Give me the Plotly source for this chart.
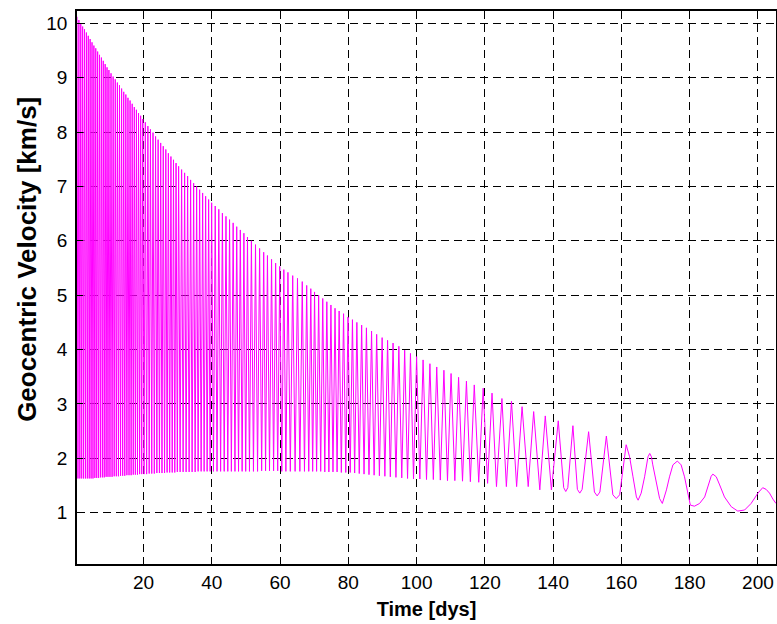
import plotly.graph_objects as go

# Peak (perigee) samples: time [days], velocity [km/s]
peak_t = [
    0.5, 1.05, 1.6, 2.15, 2.7, 3.25, 3.8, 4.35, 4.9, 5.45, 6.0, 6.55, 7.1, 7.65, 8.2, 8.75, 9.3, 9.85,
    10.47, 11.09, 11.71, 12.33, 12.95, 13.57, 14.19, 14.81, 15.43, 16.05, 16.67, 17.29, 17.91, 18.53, 19.15, 19.77,
    20.52, 21.27, 22.02, 22.77, 23.52, 24.27, 25.02, 25.77, 26.52, 27.27, 28.02, 28.77, 29.52, 30.27,
    31.15, 32.03, 32.91, 33.79, 34.67, 35.55, 36.43, 37.31, 38.19, 39.07, 39.95,
    41.0, 42.05, 43.1, 44.15, 45.2, 46.25, 47.3, 48.35, 49.4, 50.45,
    51.6, 52.8, 54.0, 55.2, 56.3, 57.5, 58.7, 59.9, 61.1, 62.3, 63.7,
    65.1, 66.5, 67.8, 69.0, 70.1, 71.3, 72.5, 73.7, 74.9, 76.1, 77.3, 78.6, 79.9, 81.2, 82.5, 83.9, 85.3, 86.8,
    88.3, 89.9, 91.5, 93.1, 94.8, 96.5, 98.2, 100.0, 101.9, 103.9, 105.9, 108.0, 110.1, 112.3, 114.6, 116.9, 119.5,
    122.1, 125.0, 127.8, 130.9, 134.3, 137.7, 141.5, 145.8, 150.4, 155.6, 161.4, 168.3, 176.4, 186.8, 201.4,
]
peak_v = [
    10.12, 10.06, 10.00, 9.94, 9.89, 9.83, 9.77, 9.71, 9.65, 9.59, 9.54, 9.48, 9.42, 9.37, 9.31, 9.25, 9.19, 9.14,
    9.08, 9.02, 8.97, 8.91, 8.86, 8.80, 8.74, 8.69, 8.63, 8.58, 8.52, 8.46, 8.41, 8.35, 8.30, 8.24,
    8.18, 8.11, 8.05, 7.99, 7.92, 7.86, 7.80, 7.74, 7.68, 7.61, 7.55, 7.49, 7.43, 7.37,
    7.31, 7.25, 7.19, 7.12, 7.06, 7.00, 6.94, 6.88, 6.82, 6.76, 6.70,
    6.64, 6.58, 6.51, 6.45, 6.39, 6.33, 6.26, 6.20, 6.14, 6.07,
    6.00, 5.93, 5.86, 5.79, 5.73, 5.66, 5.59, 5.53, 5.47, 5.42, 5.36,
    5.31, 5.25, 5.18, 5.12, 5.06, 5.00, 4.94, 4.88, 4.82, 4.76, 4.71, 4.66, 4.60, 4.55, 4.50, 4.45, 4.40, 4.34,
    4.28, 4.22, 4.17, 4.12, 4.06, 3.99, 3.93, 3.87, 3.81, 3.74, 3.68, 3.62, 3.56, 3.49, 3.42, 3.35, 3.29,
    3.20, 3.10, 3.05, 2.95, 2.86, 2.78, 2.69, 2.60, 2.49, 2.41, 2.25, 2.09, 1.95, 1.71, 1.46,
]

# Trough (apogee) samples
trough_t = [
    0.78, 1.33, 1.88, 2.43, 2.98, 3.53, 4.08, 4.63, 5.18, 5.73, 6.28, 6.83, 7.38, 7.93, 8.48, 9.03, 9.58, 10.16,
    10.78, 11.40, 12.02, 12.64, 13.26, 13.88, 14.50, 15.12, 15.74, 16.36, 16.98, 17.60, 18.22, 18.84, 19.46, 20.15,
    20.90, 21.65, 22.40, 23.15, 23.90, 24.65, 25.40, 26.15, 26.90, 27.65, 28.40, 29.15, 29.90, 30.71,
    31.59, 32.47, 33.35, 34.23, 35.11, 35.99, 36.87, 37.75, 38.63, 39.51, 40.48,
    41.53, 42.58, 43.63, 44.68, 45.73, 46.78, 47.83, 48.88, 49.93, 51.03,
    52.2, 53.4, 54.6, 55.75, 56.9, 58.1, 59.3, 60.5, 61.7, 63.0, 64.4,
    65.8, 67.15, 68.4, 69.55, 70.7, 71.9, 73.1, 74.3, 75.5, 76.7, 77.95, 79.25, 80.55, 81.85, 83.2, 84.6, 86.05, 87.55,
    89.1, 90.7, 92.3, 93.95, 95.65, 97.35, 99.1, 100.95, 102.9, 104.9, 106.95, 109.05, 111.2, 113.45, 115.75, 118.2, 120.8,
    123.4, 126.3, 129.3, 132.7, 136.1, 139.5, 143.7, 147.8, 152.9, 158.5, 164.9, 172.0, 181.4, 194.1,
]
trough_v = [
    1.63, 1.63, 1.63, 1.63, 1.63, 1.63, 1.63, 1.63, 1.63, 1.64, 1.64, 1.64, 1.65, 1.65, 1.65, 1.66, 1.66, 1.66,
    1.66, 1.67, 1.67, 1.67, 1.68, 1.68, 1.68, 1.69, 1.69, 1.69, 1.70, 1.70, 1.70, 1.71, 1.71, 1.71,
    1.71, 1.72, 1.72, 1.72, 1.73, 1.73, 1.73, 1.73, 1.74, 1.74, 1.74, 1.74, 1.75, 1.75,
    1.75, 1.75, 1.75, 1.75, 1.75, 1.76, 1.76, 1.76, 1.76, 1.76, 1.76,
    1.76, 1.76, 1.76, 1.76, 1.76, 1.76, 1.76, 1.76, 1.76, 1.76,
    1.76, 1.76, 1.77, 1.77, 1.77, 1.77, 1.77, 1.76, 1.76, 1.76, 1.76,
    1.76, 1.76, 1.76, 1.76, 1.76, 1.76, 1.75, 1.75, 1.75, 1.75, 1.74, 1.74, 1.74, 1.73, 1.72, 1.71, 1.70, 1.69,
    1.68, 1.67, 1.66, 1.65, 1.64, 1.63, 1.62, 1.62, 1.61, 1.61, 1.60, 1.59, 1.59, 1.58, 1.57, 1.56, 1.54,
    1.48, 1.48, 1.48, 1.48, 1.42, 1.42, 1.39, 1.36, 1.31, 1.26, 1.23, 1.17, 1.12, 1.03,
]

# Intermediate samples on the slow, late orbits
flank_t = [
    143.1, 144.3, 147.1, 148.5, 152.1, 153.7, 157.5, 159.5,
    162.4, 163.4, 164.4, 165.8, 166.8, 167.8,
    168.8, 169.2, 170.2, 171.2, 173.2, 174.1, 175.1,
    177.5, 178.5, 179.5, 180.2, 182.9, 184.4, 185.3, 186.3,
    187.8, 188.8, 190.2, 192.2, 196.1, 198.0, 200.0,
    202.4, 203.4, 204.4, 205.3,
]
flank_v = [
    1.46, 1.46, 1.43, 1.43, 1.38, 1.38, 1.33, 1.33,
    2.03, 1.66, 1.29, 1.36, 1.66, 2.03,
    2.03, 1.88, 1.54, 1.26, 1.42, 1.66, 1.88,
    1.88, 1.66, 1.36, 1.14, 1.17, 1.29, 1.48, 1.67,
    1.66, 1.51, 1.29, 1.11, 1.05, 1.17, 1.36,
    1.43, 1.36, 1.25, 1.17,
]

x_ticks = [20, 40, 60, 80, 100, 120, 140, 160, 180, 200]
y_ticks = [1, 2, 3, 4, 5, 6, 7, 8, 9, 10]

pts = sorted(zip(peak_t + trough_t + flank_t, peak_v + trough_v + flank_v))
time_days = [p[0] for p in pts]
velocity = [p[1] for p in pts]

fig = go.Figure()
fig.add_trace(go.Scatter(x=time_days, y=velocity, mode="lines",
                         line=dict(color="#ff00ff", width=1), hoverinfo="skip"))

FONT = "Liberation Sans, Arial"
axis_common = dict(
    showgrid=True, gridcolor="black", gridwidth=1, griddash="8px,5px",
    showline=True, linecolor="black", linewidth=1.5, mirror=True,
    ticks="inside", ticklen=6, tickcolor="black", tickwidth=1,
    zeroline=False, automargin=False,
    tickfont=dict(family=FONT, size=19, color="black"),
)
fig.update_xaxes(range=[0.5, 205.3], tickvals=x_ticks, ticklabelstandoff=0,
                 title=dict(text="Time [dys]", standoff=10,
                            font=dict(family=FONT, size=20, color="black", weight="bold")),
                 **axis_common)
fig.update_yaxes(range=[0.057, 10.226], tickvals=y_ticks, ticklabelstandoff=4, **axis_common)

# y-axis label (placed slightly above the axis centre, as in the source figure)
fig.add_annotation(text="Geocentric Velocity [km/s]", textangle=-90,
                   xref="paper", yref="paper", x=-0.0715, y=0.55,
                   xanchor="center", yanchor="middle", showarrow=False,
                   font=dict(family=FONT, size=26, color="black", weight="bold"))

fig.update_layout(width=777, height=624, margin=dict(l=77, r=1, t=11, b=60),
                  plot_bgcolor="white", paper_bgcolor="white", showlegend=False)
fig.write_html("out.html", config={"displayModeBar": False},
               post_script="document.body.style.margin='0';document.body.style.overflow='hidden';")
